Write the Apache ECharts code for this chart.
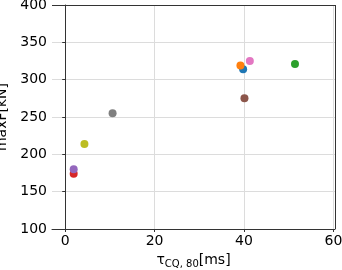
<!DOCTYPE html>
<html><head><meta charset="utf-8">
<script src="https://cdn.jsdelivr.net/npm/echarts@6/dist/echarts.min.js"></script>
<style>html,body{margin:0;padding:0;background:#fff}#c{width:342px;height:270px}</style>
</head><body><div id="c"></div>
<script>
const xValues = [39.8, 39.2, 51.4, 1.9, 1.9, 40.1, 41.3, 10.6, 4.3];
const yValues = [314, 319, 321, 174, 180, 275, 325, 255, 214];
const colors = ['#1f77b4','#ff7f0e','#2ca02c','#d62728','#9467bd','#8c564b','#e377c2','#7f7f7f','#bcbd22'];
const xTicks = [0, 20, 40, 60];
const yTicks = [100, 150, 200, 250, 300, 350, 400];

const font = 'DejaVu Sans';
const fs = 14;
const chart = echarts.init(document.getElementById('c'), null, {renderer: 'canvas'});
const series = xValues.map((x, i) => ({
  type: 'scatter', symbolSize: 8, data: [[x, yValues[i]]],
  itemStyle: {color: colors[i], opacity: 1}, z: 2 + i
}));
chart.setOption({
  animation: false,
  grid: {left: 52, right: 7, top: 5, bottom: 41, show: false, containLabel: false, outerBoundsMode: 'none'},
  xAxis: {
    type: 'value', min: -2.95, max: 60.35,
    axisLine: {show: true, onZero: false, lineStyle: {color: '#333', width: 1}},
    axisTick: {show: true, length: 3, customValues: xTicks, lineStyle: {color: '#333'}},
    axisLabel: {customValues: xTicks, color: '#000', fontFamily: font, fontSize: fs, margin: 5},
    splitLine: {show: true, lineStyle: {color: '#dcdcdc', width: 1}},
    name: '{a|τ}{b|CQ, 80}{a|[ms]}', nameLocation: 'middle', nameGap: 22,
    nameTextStyle: {
      color: '#000', fontFamily: font, fontSize: fs,
      rich: {
        a: {fontFamily: font, fontSize: fs, color: '#000', lineHeight: 18, verticalAlign: 'middle'},
        b: {fontFamily: font, fontSize: 10, color: '#000', lineHeight: 18, verticalAlign: 'bottom'}
      }
    }
  },
  yAxis: {
    type: 'value', min: 100, max: 400, interval: 50,
    axisLine: {show: true, lineStyle: {color: '#333', width: 1}},
    axisTick: {show: true, length: 3, lineStyle: {color: '#333'}},
    axisLabel: {color: '#000', fontFamily: font, fontSize: fs, margin: 5},
    splitLine: {show: true, lineStyle: {color: '#dcdcdc', width: 1}},
    name: 'maxF[kN]', nameLocation: 'middle', nameGap: 37, nameRotate: 90,
    nameTextStyle: {color: '#000', fontFamily: font, fontSize: fs}
  },
  series: series.concat([{
    type: 'line', data: [], silent: true,
    markLine: {silent: true, symbol: 'none', label: {show: false},
      lineStyle: {color: '#333', type: 'solid', width: 1},
      data: [[{coord: [60.35, 100]}, {coord: [60.35, 400]}], [{coord: [-2.95, 400]}, {coord: [60.35, 400]}]]}
  }])
});
</script></body></html>
